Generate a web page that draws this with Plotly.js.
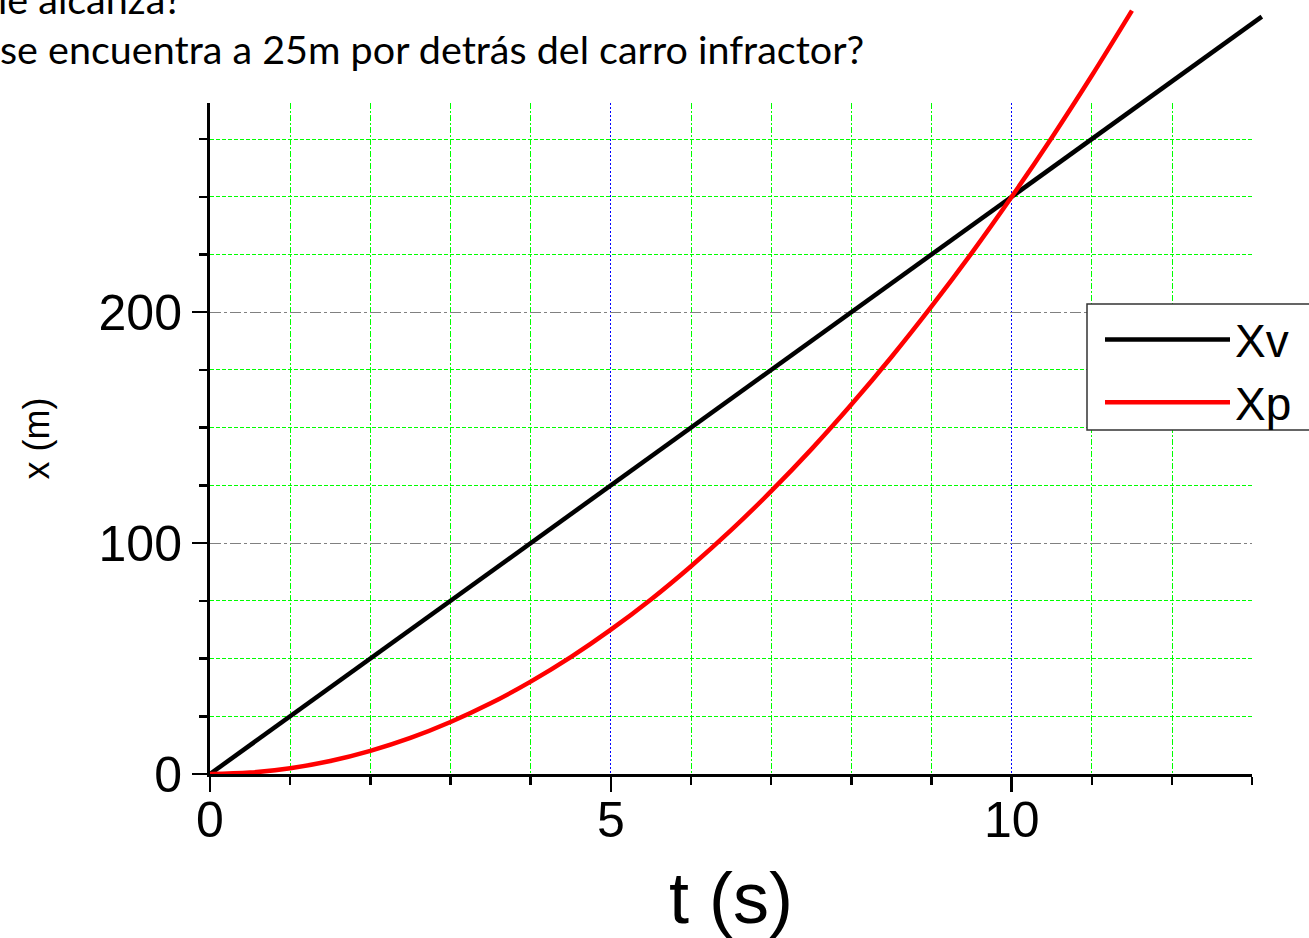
<!DOCTYPE html>
<html>
<head>
<meta charset="utf-8">
<script src="https://cdn.plot.ly/plotly-3.0.1.min.js"></script>
<style>
  html, body { margin: 0; padding: 0; background: #ffffff; }
  #chart { width: 1309px; height: 938px; }
</style>
</head>
<body>
<div id="chart"></div>
<script>
// ---- data ----
const seriesNames = ['Xv', 'Xp'];
const seriesColors = ['#000000', '#ff0000'];
const tXv = [0, 2, 4, 6, 8, 10, 12, 13.12];
const xXv = [0, 50, 100, 150, 200, 250, 300, 328];
const tXp = [0, 0.5, 1, 1.5, 2, 2.5, 3, 3.5, 4, 4.5, 5, 5.5, 6, 6.5, 7, 7.5, 8, 8.5, 9, 9.5, 10, 10.5, 11, 11.5];
const xXp = [0, 0.6, 2.5, 5.6, 10, 15.6, 22.5, 30.6, 40, 50.6, 62.5, 75.6, 90, 105.6, 122.5, 140.6, 160, 180.6, 202.5, 225.6, 250, 275.6, 302.5, 330.6];
const headingLines = ['le alcanza?', 'se encuentra a 25m por detrás del carro infractor?'];
const xTitleText = 't (s)';
const yTitleText = 'x (m)';
const tRange = [0, 13];
const posRange = [0, 290.6];

// ---- layout geometry (pixels of the 1309x938 picture) ----
const W = 1309, H = 938;
const plotLeft = 210, plotRight = 1252.2, plotTop = 103, plotBottom = 774;
const legendBox = { left: 1087, right: 1320, top: 304, bottom: 430 };
const paperW = W - plotLeft, paperH = plotBottom;
const xDomTop = (plotRight - plotLeft) / paperW;
const yDomTop = (plotBottom - plotTop) / paperH;
const pxX = px => (px - plotLeft) / paperW;
const pxY = px => (plotBottom - px) / paperH;
const axisFont = 'Liberation Sans, Arial, sans-serif';

const traces = [
  // the framed axes subplot (carries the grid, ticks and axis titles)
  { x: tXv, y: xXv, name: seriesNames[0], type: 'scatter', mode: 'lines', visible: 'legendonly',
    showlegend: false, hoverinfo: 'skip', xaxis: 'x', yaxis: 'y' },
  // the curves, drawn on an aligned overlay that is not clipped at the frame
  { x: tXv, y: xXv, name: seriesNames[0], type: 'scatter', mode: 'lines',
    line: { color: seriesColors[0], width: 4.5 }, xaxis: 'x2', yaxis: 'y2' },
  { x: tXp, y: xXp, name: seriesNames[1], type: 'scatter', mode: 'lines',
    line: { color: seriesColors[1], width: 4.5, shape: 'spline', smoothing: 1 }, xaxis: 'x2', yaxis: 'y2' }
];

const layout = {
  width: W, height: H,
  margin: { l: plotLeft, r: 0, t: 0, b: H - plotBottom, pad: 0, autoexpand: false },
  paper_bgcolor: '#ffffff',
  plot_bgcolor: 'rgba(0,0,0,0)',
  showlegend: true,
  font: { family: axisFont, color: '#000000' },
  xaxis: {
    domain: [0, xDomTop], range: tRange, anchor: 'y',
    showline: true, linecolor: '#000000', linewidth: 3,
    ticks: 'outside', tick0: 0, dtick: 5, ticklen: 15, tickwidth: 2.5, tickcolor: '#000000',
    showgrid: true, gridcolor: '#0000ff', gridwidth: 1, griddash: '2px,2px',
    zeroline: false,
    minor: { ticks: 'outside', tick0: 0, dtick: 1, ticklen: 8, tickwidth: 2.5, tickcolor: '#000000',
             showgrid: true, gridcolor: '#00ff00', gridwidth: 1, griddash: '6px,2px,2px,2px' },
    tickfont: { family: axisFont, size: 50, color: '#000000' },
    ticklabelstandoff: -15,
    title: { text: xTitleText, font: { family: axisFont, size: 72, color: '#000000' }, standoff: 34 },
    automargin: false, fixedrange: true
  },
  yaxis: {
    domain: [0, yDomTop], range: posRange, anchor: 'x',
    showline: true, linecolor: '#000000', linewidth: 3,
    ticks: 'outside', tick0: 0, dtick: 100, ticklen: 15, tickwidth: 2.5, tickcolor: '#000000',
    showgrid: true, gridcolor: '#808080', gridwidth: 1, griddash: '11px,3px,3px,3px',
    zeroline: false,
    minor: { ticks: 'outside', tick0: 0, dtick: 25, ticklen: 8, tickwidth: 2.5, tickcolor: '#000000',
             showgrid: true, gridcolor: '#00ff00', gridwidth: 1, griddash: '4px,2px' },
    tickfont: { family: axisFont, size: 50, color: '#000000' },
    title: { text: yTitleText, font: { family: axisFont, size: 36, color: '#000000' }, standoff: 38 },
    automargin: false, fixedrange: true
  },
  xaxis2: { domain: [0, 1], range: [0, tRange[1] / xDomTop], anchor: 'y2', visible: false, fixedrange: true },
  yaxis2: { domain: [0, 1], range: [0, posRange[1] / yDomTop], anchor: 'x2', visible: false, fixedrange: true },
  legend: {
    x: pxX(legendBox.left + 1), y: pxY(legendBox.top - 1),
    xanchor: 'left', yanchor: 'top',
    bgcolor: 'rgba(0,0,0,0)', borderwidth: 0,
    font: { family: axisFont, size: 46, color: '#000000' },
    itemwidth: 125, indentation: 12, tracegroupgap: 0
  },
  shapes: [
    // legend frame, which runs past the right edge of the picture as in the reference
    { type: 'rect', xref: 'paper', yref: 'paper', layer: 'above',
      x0: pxX(legendBox.left), x1: pxX(legendBox.right), y0: pxY(legendBox.bottom), y1: pxY(legendBox.top),
      line: { color: '#333333', width: 1.5 }, fillcolor: '#ffffff' }
  ],
  annotations: [
    { text: headingLines[0], xref: 'paper', yref: 'paper', x: 0, y: 1, xanchor: 'left', yanchor: 'middle',
      xshift: -plotLeft - 4, yshift: 2, showarrow: false,
      font: { family: 'Lato, Carlito, sans-serif', size: 39.5, color: '#000000' } },
    { text: headingLines[1], xref: 'paper', yref: 'paper', x: 0, y: 1, xanchor: 'left', yanchor: 'middle',
      xshift: -plotLeft - 2, yshift: -48, showarrow: false,
      font: { family: 'Lato, Carlito, sans-serif', size: 39.5, color: '#000000' } }
  ]
};

Plotly.newPlot('chart', traces, layout, { displayModeBar: false, staticPlot: true });
</script>
</body>
</html>
